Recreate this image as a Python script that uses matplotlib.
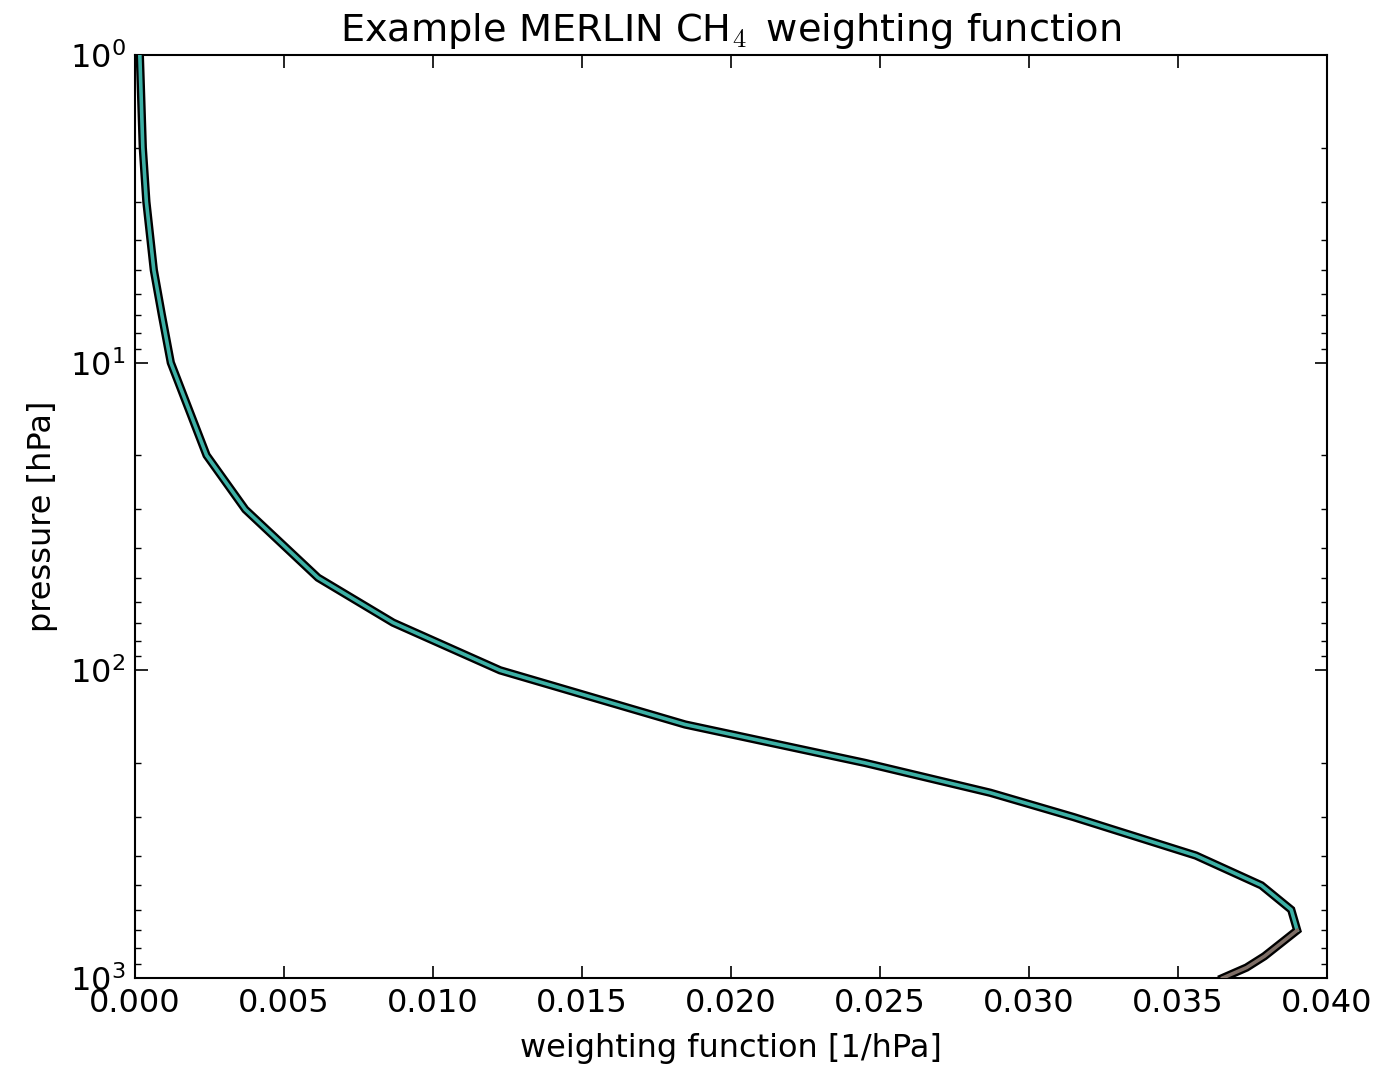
import matplotlib
matplotlib.use("Agg")
import matplotlib.pyplot as plt
from matplotlib.ticker import FormatStrFormatter, LogLocator

plt.rcParams['font.family'] = ['DejaVu Sans']
plt.rcParams['mathtext.fontset'] = 'cm'

# data
pressure = [1, 2, 3, 5, 7, 10, 20, 30, 50, 70, 100, 150, 200, 250, 300,
            400, 500, 600, 700, 850, 925, 1000]
weighting = [0.00016, 0.00026, 0.00038, 0.00063, 0.0009, 0.0012, 0.0024,
             0.0037, 0.00614, 0.00866, 0.01225, 0.01846, 0.0245, 0.0287,
             0.0315, 0.0356, 0.0378, 0.0388, 0.0390, 0.0379, 0.0373, 0.0365]
xticks = [0.000, 0.005, 0.010, 0.015, 0.020, 0.025, 0.030, 0.035, 0.040]

fig = plt.figure(figsize=(13.98, 10.70), dpi=100)
ax = fig.add_axes([0.0966, 0.086, 0.9492 - 0.0966, 0.9486 - 0.086])

ax.plot(weighting, pressure, color='black', lw=6.0, solid_joinstyle='miter', zorder=2)
n_top = pressure.index(700) + 1
ax.plot(weighting[:n_top], pressure[:n_top], color='#3cb0a5', lw=2.6, zorder=3)
ax.plot(weighting[n_top - 1:], pressure[n_top - 1:], color='#7e6e66', lw=2.6, zorder=3)

ax.set_yscale('log')
ax.set_ylim(1000, 1)
ax.set_xlim(0, 0.040)
ax.set_xticks(xticks)
ax.xaxis.set_major_formatter(FormatStrFormatter('%.3f'))
ax.yaxis.set_minor_locator(LogLocator(base=10, subs=range(2, 10)))

ax.tick_params(which='both', direction='in', top=True, right=True,
               labelsize=23, pad=7)
ax.tick_params(which='major', length=9, width=1.2)
ax.tick_params(which='minor', length=4, width=1.0)
for s in ax.spines.values():
    s.set_linewidth(1.5)

ax.set_title('Example MERLIN CH$_4\\,$ weighting function', fontsize=27.5, pad=10)
ax.set_xlabel('weighting function [1/hPa]', fontsize=23, labelpad=10)
ax.set_ylabel('pressure [hPa]', fontsize=23, labelpad=8)

fig.savefig('out.png', dpi=100)
